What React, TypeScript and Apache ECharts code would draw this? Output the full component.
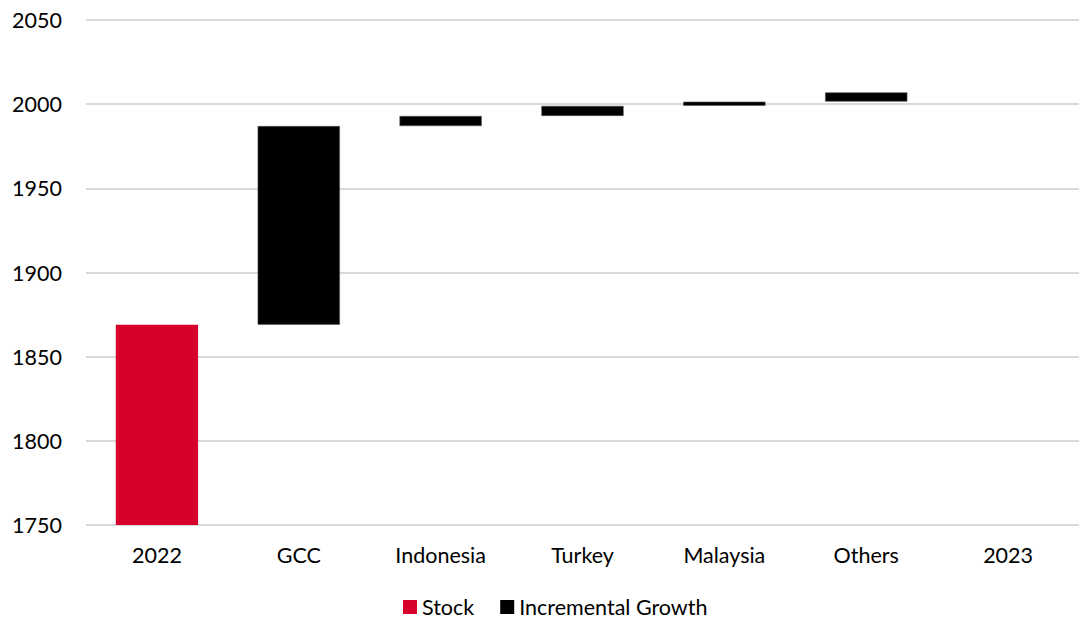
import React, { useEffect, useRef } from "react";
import * as echarts from "echarts";

// Waterfall: 2022 stock, regional increments, 2023 column
const categories = ["2022", "GCC", "Indonesia", "Turkey", "Malaysia", "Others", "2023"];
const stockValues: (number | null)[] = [1869, null, null, null, null, null, null];
const incrementValues: (number | null)[] = [null, 118, 6, 6, 2.5, 5.5, null];
const yTicks = { min: 1750, max: 2050, interval: 50 };

// Invisible base for each floating increment: the running total before it
function buildBase(): (number | null)[] {
  let running = stockValues[0] ?? 0;
  return categories.map((_, i) => {
    const inc = incrementValues[i];
    if (inc == null) return null;
    const base = running;
    running += inc;
    return base;
  });
}

const FONT = "Lato, 'Open Sans', sans-serif";

export default function App() {
  const ref = useRef<HTMLDivElement>(null);

  useEffect(() => {
    if (!ref.current) return;
    const chart = echarts.init(ref.current, undefined, { renderer: "svg" });
    const base = buildBase();
    chart.setOption({
      animation: false,
      backgroundColor: "#ffffff",
      textStyle: { fontFamily: FONT },
      grid: { left: 86, right: 0, top: 20, bottom: 94, containLabel: false },
      legend: {
        data: ["Stock", "Incremental Growth"],
        left: 403,
        top: 596,
        padding: 0,
        icon: "rect",
        itemWidth: 14,
        itemHeight: 14,
        itemGap: 26,
        itemStyle: { borderWidth: 0 },
        textStyle: { fontFamily: FONT, fontSize: 21.5, color: "#000" },
      },
      xAxis: {
        type: "category",
        data: categories,
        axisLine: { show: false },
        axisTick: { show: false },
        axisLabel: { fontFamily: FONT, fontSize: 21.5, color: "#000", margin: 19 },
      },
      yAxis: {
        type: "value",
        min: yTicks.min,
        max: yTicks.max,
        interval: yTicks.interval,
        axisLine: { show: false },
        axisTick: { show: false },
        axisLabel: {
          fontFamily: FONT,
          fontSize: 21.5,
          color: "#000",
          margin: 24,
          formatter: (v: number) => String(v),
        },
        splitLine: { lineStyle: { color: "#d9d9d9", width: 2 } },
      },
      series: [
        {
          name: "base",
          type: "bar",
          stack: "w",
          data: base,
          itemStyle: { color: "transparent" },
          barCategoryGap: "42%",
          silent: true,
        },
        {
          name: "Stock",
          type: "bar",
          stack: "w",
          data: stockValues,
          itemStyle: { color: "#d6002a" },
          barCategoryGap: "42%",
        },
        {
          name: "Incremental Growth",
          type: "bar",
          stack: "w",
          data: incrementValues,
          itemStyle: { color: "#000000", borderColor: "#555", borderWidth: 0.6 },
          barCategoryGap: "42%",
        },
      ],
    });
    return () => chart.dispose();
  }, []);

  return (
    <div
      ref={ref}
      style={{ position: "fixed", left: 0, top: 0, width: 1079, height: 619 }}
    />
  );
}
